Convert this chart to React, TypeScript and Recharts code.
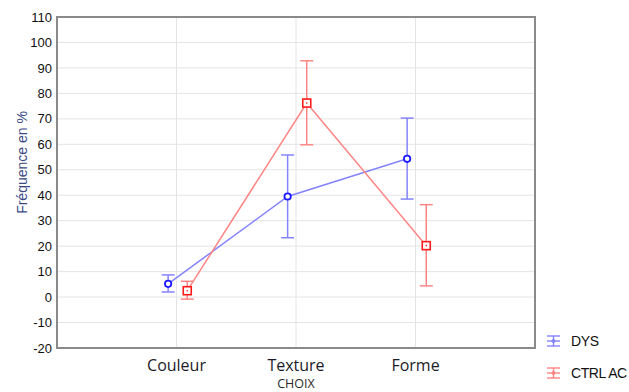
import React from 'react';
import {
  LineChart,
  Line,
  XAxis,
  YAxis,
  CartesianGrid,
  ErrorBar,
  ReferenceArea,
  Legend,
} from 'recharts';

const categories = ['Couleur', 'Texture', 'Forme'];

// DYS group: means and confidence limits (%)
const dysMean = [5.2, 39.5, 54.3];
const dysLow = [2.0, 23.3, 38.5];
const dysHigh = [8.7, 55.8, 70.3];

// CTRL AC group
const ctrlMean = [2.5, 76.2, 20.2];
const ctrlLow = [-0.8, 59.8, 4.4];
const ctrlHigh = [6.2, 92.8, 36.3];

const yTicks = [-20, -10, 0, 10, 20, 30, 40, 50, 60, 70, 80, 90, 100, 110];

const BLUE_LINE = '#8484ff';
const BLUE_MARK = '#1a1aff';
const RED_LINE = '#ff8585';
const RED_MARK = '#ff1a1a';

// small horizontal shift so the two groups don't overlap on a category
const buildRows = (mean: number[], low: number[], high: number[], shift: number) =>
  mean.map((m, i) => ({
    x: i + 1 + shift,
    y: m,
    err: [m - low[i], high[i] - m],
  }));

const dysData = buildRows(dysMean, dysLow, dysHigh, -0.07);
const ctrlData = buildRows(ctrlMean, ctrlLow, ctrlHigh, 0.09);

const CircleDot = (props: any) => {
  const { cx, cy, index } = props;
  return <circle key={`c-${index}`} cx={cx} cy={cy} r={3.2} fill="#fff" stroke={BLUE_MARK} strokeWidth={1.8} />;
};

const SquareDot = (props: any) => {
  const { cx, cy, index } = props;
  return (
    <g key={`s-${index}`}>
      <rect x={cx - 4} y={cy - 4} width={8} height={8} fill="#fff" stroke={RED_MARK} strokeWidth={1.6} />
      <circle cx={cx} cy={cy} r={0.8} fill={RED_MARK} />
    </g>
  );
};

const LegendIcon = ({ color }: { color: string }) => (
  <svg width={15} height={14} style={{ marginRight: 10 }}>
    <line x1={1} x2={14} y1={2} y2={2} stroke={color} strokeWidth={1.4} />
    <line x1={1} x2={14} y1={7} y2={7} stroke={color} strokeWidth={1.4} />
    <line x1={1} x2={14} y1={12} y2={12} stroke={color} strokeWidth={1.4} />
    <line x1={7.5} x2={7.5} y1={2} y2={12} stroke={color} strokeWidth={1.4} />
    <circle cx={7.5} cy={7} r={2} fill={color} />
  </svg>
);

const renderLegend = () => (
  <div style={{ fontFamily: 'Liberation Sans, Arial, sans-serif', fontSize: 14, color: '#111', letterSpacing: -0.4 }}>
    <div style={{ display: 'flex', alignItems: 'center', height: 16 }}>
      <LegendIcon color={BLUE_LINE} />
      <span>DYS</span>
    </div>
    <div style={{ display: 'flex', alignItems: 'center', height: 16, marginTop: 16 }}>
      <LegendIcon color={RED_LINE} />
      <span style={{ whiteSpace: 'nowrap' }}>CTRL AC</span>
    </div>
  </div>
);

const App = () => {
  return (
    <div style={{ position: 'absolute', left: 0, top: 0, width: 629, height: 392, background: '#fff' }}>
      <LineChart width={629} height={392} margin={{ top: 17, right: 94, bottom: 0, left: 0 }}>
        <CartesianGrid stroke="#e4e4e4" strokeWidth={1} />
        <XAxis
          type="number"
          dataKey="x"
          domain={[0, 4]}
          ticks={[1, 2, 3]}
          tickFormatter={(v: number) => categories[v - 1]}
          allowDuplicatedCategory={false}
          axisLine={false}
          tickLine={false}
          tickSize={0}
          tickMargin={12}
          height={44}
          tick={{ fontFamily: 'Open Sans, sans-serif', fontSize: 16, fill: '#1c1c28' }}
          label={{
            value: 'CHOIX',
            position: 'insideBottom',
            offset: 4,
            style: { fontFamily: 'Open Sans, sans-serif', fontSize: 12.5, fill: '#2a2a2a' },
          }}
        />
        <YAxis
          type="number"
          domain={[-20, 110]}
          ticks={yTicks}
          interval={0}
          width={57}
          axisLine={false}
          tickLine={false}
          tickSize={0}
          tickMargin={5}
          tick={{ fontFamily: 'Liberation Sans, Arial, sans-serif', fontSize: 13, fill: '#111' }}
          label={{
            value: 'Fréquence en %',
            angle: -90,
            position: 'insideLeft',
            offset: 22,
            dy: -20,
            style: { fontFamily: 'Liberation Sans, Arial, sans-serif', fontSize: 14, fill: '#3b4a86', textAnchor: 'middle' },
          }}
        />
        <ReferenceArea x1={0} x2={4} y1={-20} y2={110} fill="none" stroke="#8a8a8a" strokeWidth={2} />
        <Line
          data={dysData}
          dataKey="y"
          name="DYS"
          stroke={BLUE_LINE}
          strokeWidth={1.5}
          dot={CircleDot}
          activeDot={false}
          isAnimationActive={false}
        >
          <ErrorBar dataKey="err" direction="y" width={6.5} stroke={BLUE_LINE} strokeWidth={1.5} />
        </Line>
        <Line
          data={ctrlData}
          dataKey="y"
          name="CTRL AC"
          stroke={RED_LINE}
          strokeWidth={1.5}
          dot={SquareDot}
          activeDot={false}
          isAnimationActive={false}
        >
          <ErrorBar dataKey="err" direction="y" width={6.5} stroke={RED_LINE} strokeWidth={1.5} />
        </Line>
        <Legend
          layout="vertical"
          align="center"
          verticalAlign="middle"
          content={renderLegend}
          wrapperStyle={{ left: 546, top: 333, width: 90, height: 50 }}
        />
      </LineChart>
    </div>
  );
};

export default App;
